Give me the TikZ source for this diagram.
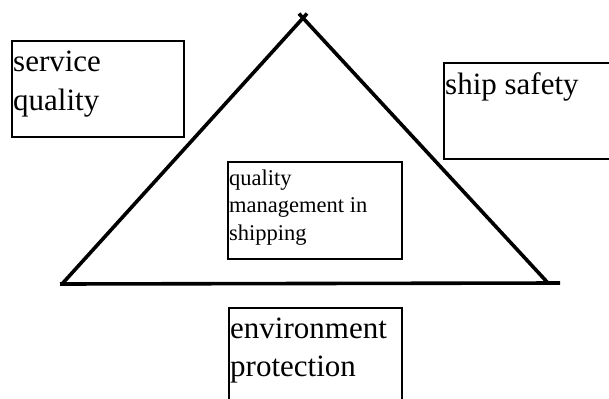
\documentclass[tikz,border=0pt]{standalone}
\usepackage{fontspec}
\setmainfont{Liberation Serif}
\usetikzlibrary{positioning,calc}
\tikzset{
  qframe/.style={draw, line width=1.6pt, inner sep=0pt, anchor=north west},
  qlabel/.style={inner sep=0pt, anchor=base west, align=left,
    font=\fontsize{31}{38.5}\selectfont},
  qsmall/.style={qlabel, font=\fontsize{22.5}{27.5}\selectfont},
  side/.style={line width=3.6pt},
}

\begin{document}
\begin{tikzpicture}[x=1pt, y=-1pt]
  \useasboundingbox (0,0) rectangle (609,398);
  % corners of the triangle
  \coordinate (top) at (303,18);
  \coordinate (lft) at (62,284);
  \coordinate (rgt) at (548,283);
  \coordinate (baseL) at (60,284);
  \coordinate (baseR) at (560,283);
  \draw[side, shorten >=-6pt] (lft) -- (top);
  \draw[side, shorten >=-6pt] (rgt) -- (top);
  \draw[side] (baseL) -- (baseR);

  % boxes round the triangle
  \node[qframe, minimum width=172pt, minimum height=96pt] (svc) at (11,40) {};
  \node[qframe, minimum width=172pt, minimum height=96pt] (safe) at (443,62) {};
  \node[qframe, minimum width=174pt, minimum height=97pt] (qm) at (227,161) {};
  \node[qframe, minimum width=173pt, minimum height=96pt] (env) at (228,307) {};

  % labels sit on the baseline of their last line
  \node[qlabel] (svctext) at (13,110.5) {service\\quality};
  \node[qlabel] (safetext) at (445,95) {ship safety};
  \node[qsmall] (qmtext) at (229,240) {quality\\management in\\shipping};
  \node[qlabel] (envtext) at (230,376.5) {environment\\protection};
\end{tikzpicture}
\end{document}
